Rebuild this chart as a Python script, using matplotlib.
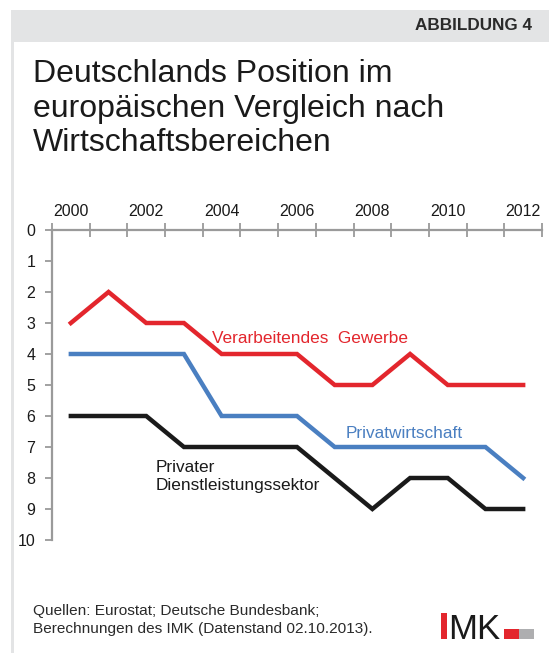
import matplotlib
matplotlib.use("Agg")
import matplotlib.pyplot as plt
from matplotlib.patches import Rectangle
from matplotlib.ticker import FixedLocator, NullFormatter

plt.rcParams['font.family'] = ['Liberation Sans', 'DejaVu Sans']

years = list(range(2000, 2013))
verarbeitendes = [3, 2, 3, 3, 4, 4, 4, 5, 5, 4, 5, 5, 5]
privatwirtschaft = [4, 4, 4, 4, 6, 6, 6, 7, 7, 7, 7, 7, 8]
dienstleistung = [6, 6, 6, 7, 7, 7, 7, 8, 9, 8, 8, 9, 9]
year_labels = ["2000", "2002", "2004", "2006", "2008", "2010", "2012"]
y_ticks = list(range(0, 11))

W, H = 549, 653
fig = plt.figure(figsize=(W / 100, H / 100), dpi=100)
fig.patch.set_facecolor("white")

def px(x, y):
    return x / W, 1 - y / H

# header band and left bar
fig.add_artist(Rectangle((11 / W, 1 - 42 / H), 1 - 11 / W, 32 / H,
                         transform=fig.transFigure, facecolor="#e3e4e5", edgecolor="none"))
fig.add_artist(Rectangle((11 / W, 0), 3 / W, 1 - 42 / H,
                         transform=fig.transFigure, facecolor="#e3e4e5", edgecolor="none"))
fig.text(*px(532, 26), "ABBILDUNG 4", ha="right", va="center", fontsize=12.3,
         fontweight="bold", color="#2a2a2a")

# title
fig.text(*px(33, 59), "Deutschlands Position im\neuropäischen Vergleich nach\nWirtschaftsbereichen",
         ha="left", va="top", fontsize=23, color="#1a1a1a", linespacing=1.2)

# axes
left, right, top, bottom = 52, 542, 230, 540
ax = fig.add_axes([left / W, 1 - bottom / H, (right - left) / W, (bottom - top) / H])
ax.set_facecolor("none")
x = list(range(len(years)))
ax.plot(x, verarbeitendes, color="#e3262d", lw=3.2, solid_joinstyle="miter")
ax.plot(x, privatwirtschaft, color="#4a7fc1", lw=3.2, solid_joinstyle="miter")
ax.plot(x, dienstleistung, color="#1a1a1a", lw=3.2, solid_joinstyle="miter")

ax.set_xlim(-0.5, len(years) - 0.5)
ax.set_ylim(10, 0)

ax.xaxis.tick_top()
ax.xaxis.set_major_locator(FixedLocator([i - 0.5 for i in range(len(years) + 1)]))
ax.xaxis.set_major_formatter(NullFormatter())
label_pos = [years.index(int(s)) for s in year_labels]
ax.xaxis.set_minor_locator(FixedLocator(label_pos))
ax.set_xticklabels(year_labels, minor=True)
ax.tick_params(axis="x", which="major", direction="inout", length=10, width=1.3, color="#9a9a9a")
ax.tick_params(axis="x", which="minor", length=0, pad=8, labelsize=11.5, labelcolor="#1a1a1a")

ax.set_yticks(y_ticks)
ax.tick_params(axis="y", direction="out", length=5, width=1.3, color="#9a9a9a",
               pad=7, labelsize=11.5, labelcolor="#1a1a1a")

for s in ["bottom", "right"]:
    ax.spines[s].set_visible(False)
for s in ["top", "left"]:
    ax.spines[s].set_color("#9a9a9a")
    ax.spines[s].set_linewidth(1.6)

ax.text(3.75, 3.5, "Verarbeitendes  Gewerbe", color="#e3262d", fontsize=12.4, ha="left", va="center")
ax.text(7.28, 6.58, "Privatwirtschaft", color="#4a7fc1", fontsize=12.4, ha="left", va="center")
ax.text(2.25, 7.42, "Privater\nDienstleistungssektor", color="#1a1a1a", fontsize=12.4,
        ha="left", va="top", linespacing=1.25)

# source
fig.text(*px(33, 604), "Quellen: Eurostat; Deutsche Bundesbank;\nBerechnungen des IMK (Datenstand 02.10.2013).",
         ha="left", va="top", fontsize=11.1, color="#2a2a2a", linespacing=1.35)

# logo
fig.add_artist(Rectangle(px(441, 639), 6 / W, 26 / H, transform=fig.transFigure,
                         facecolor="#e3262d", edgecolor="none"))
fig.text(*px(448, 639), "MK", ha="left", va="baseline", fontsize=25, color="#1a1a1a")
fig.add_artist(Rectangle(px(504, 639), 15 / W, 10 / H, transform=fig.transFigure,
                         facecolor="#e3262d", edgecolor="none"))
fig.add_artist(Rectangle(px(519, 639), 15 / W, 10 / H, transform=fig.transFigure,
                         facecolor="#aeaeb0", edgecolor="none"))

fig.savefig("out.png", dpi=100, facecolor="white")
